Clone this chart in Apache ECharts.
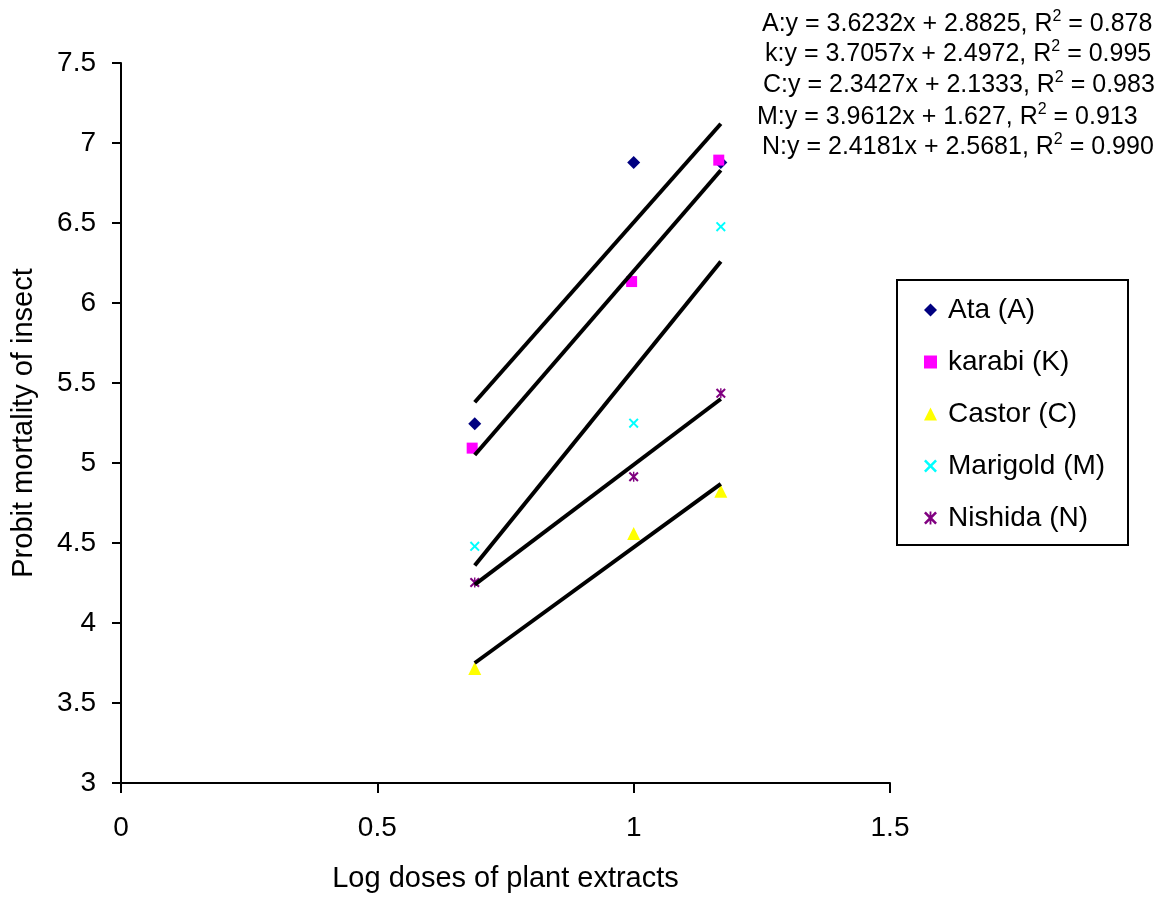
<!DOCTYPE html>
<html>
<head>
<meta charset="utf-8">
<script src="https://cdn.jsdelivr.net/npm/echarts@6/dist/echarts.min.js"></script>
<style>
html,body{margin:0;padding:0;background:#fff;}
#chart{width:1169px;height:899px;}
</style>
</head>
<body>
<div id="chart"></div>
<script>
// ---- data ----
const seriesNames = ['Ata (A)', 'karabi (K)', 'Castor (C)', 'Marigold (M)', 'Nishida (N)'];
const xAta = [0.69, 1.0, 1.17];
const yAta = [5.245, 6.878, 6.878];
const xKarabi = [0.685, 0.996, 1.166];
const yKarabi = [5.093, 6.134, 6.893];
const xCastor = [0.69, 1.0, 1.17];
const yCastor = [3.716, 4.559, 4.823];
const xMarigold = [0.69, 1.0, 1.17];
const yMarigold = [4.479, 5.249, 6.477];
const xNishida = [0.69, 1.0, 1.17];
const yNishida = [4.253, 4.914, 5.436];

// trendline end points
const trendX = [0.69, 1.17];
const trendA = [5.38, 7.12];
const trendK = [5.05, 6.83];
const trendC = [3.75, 4.87];
const trendM = [4.36, 6.26];
const trendN = [4.24, 5.40];

const equations = [
  ['A:y = 3.6232x + 2.8825, R', '2', ' = 0.878'],
  ['k:y = 3.7057x + 2.4972, R', '2', ' = 0.995'],
  ['C:y = 2.3427x + 2.1333, R', '2', ' = 0.983'],
  ['M:y = 3.9612x + 1.627, R', '2', ' = 0.913'],
  ['N:y = 2.4181x + 2.5681, R', '2', ' = 0.990']
];

const xTitle = 'Log doses of plant extracts';
const yTitle = 'Probit mortality of insect';

// ---- build ----
const FONT = "'Liberation Sans', Arial, sans-serif";
const zip = (xs, ys) => xs.map((x, i) => [x, ys[i]]);

const crossPath = 'path://M0,1.4 L1.4,0 L5,3.6 L8.6,0 L10,1.4 L6.4,5 L10,8.6 L8.6,10 L5,6.4 L1.4,10 L0,8.6 L3.6,5 Z';
const starPath = 'path://M0,1.4 L1.4,0 L5,3.6 L8.6,0 L10,1.4 L6.4,5 L10,8.6 L8.6,10 L5,6.4 L1.4,10 L0,8.6 L3.6,5 Z M4.3,0 L5.7,0 L5.7,10 L4.3,10 Z';

const scatterDefs = [
  {name: seriesNames[0], data: zip(xAta, yAta), symbol: 'diamond', size: 13, color: '#000080'},
  {name: seriesNames[1], data: zip(xKarabi, yKarabi), symbol: 'rect', size: 11, color: '#ff00ff'},
  {name: seriesNames[2], data: zip(xCastor, yCastor), symbol: 'triangle', size: 13, color: '#ffff00'},
  {name: seriesNames[3], data: zip(xMarigold, yMarigold), symbol: crossPath, size: 10, color: '#00ffff'},
  {name: seriesNames[4], data: zip(xNishida, yNishida), symbol: starPath, size: 10, color: '#800080'}
];

const series = scatterDefs.map(d => ({
  type: 'scatter',
  name: d.name,
  data: d.data,
  symbol: d.symbol,
  symbolSize: d.size,
  itemStyle: {color: d.color, opacity: 1},
  z: 2
}));

[trendA, trendK, trendC, trendM, trendN].forEach((t, i) => {
  series.push({
    type: 'line',
    name: 'trend' + i,
    data: zip(trendX, t),
    showSymbol: false,
    symbol: 'none',
    silent: true,
    lineStyle: {color: '#000', width: 4},
    z: 3
  });
});

const eqLeft = [762, 765, 763, 757, 762];
const eqMid = [24, 54, 85, 117, 147];
const graphics = equations.map((e, i) => ({
  type: 'text',
  left: eqLeft[i],
  top: eqMid[i] - 15,
  style: {
    text: '{m|' + e[0] + '}{s|' + e[1] + '}{m|' + e[2] + '}',
    rich: {
      m: {fontSize: 25, fontFamily: FONT, fill: '#000', lineHeight: 30},
      s: {fontSize: 16, fontFamily: FONT, fill: '#000', lineHeight: 16, verticalAlign: 'top'}
    }
  }
}));
graphics.push({
  type: 'rect',
  shape: {x: 897, y: 280, width: 231, height: 265},
  style: {fill: 'none', stroke: '#000', lineWidth: 2},
  silent: true
});

const chart = echarts.init(document.getElementById('chart'), null, {renderer: 'canvas'});
chart.setOption({
  backgroundColor: '#fff',
  animation: false,
  textStyle: {fontFamily: FONT},
  grid: {left: 121, right: 279, top: 63, bottom: 116, containLabel: false},
  xAxis: {
    type: 'value',
    min: 0, max: 1.5, interval: 0.5,
    name: xTitle,
    nameLocation: 'middle',
    nameGap: 81,
    nameTextStyle: {fontSize: 29, color: '#000', fontFamily: FONT},
    axisLine: {show: true, onZero: false, lineStyle: {color: '#000', width: 2}},
    axisTick: {show: true, length: 10, lineStyle: {color: '#000', width: 2}},
    axisLabel: {fontSize: 28, color: '#000', margin: 31, fontFamily: FONT},
    splitLine: {show: false}
  },
  yAxis: {
    type: 'value',
    min: 3, max: 7.5, interval: 0.5,
    name: yTitle,
    nameLocation: 'middle',
    nameGap: 83,
    nameTextStyle: {fontSize: 29, color: '#000', fontFamily: FONT},
    axisLine: {show: true, onZero: false, lineStyle: {color: '#000', width: 2}},
    axisTick: {show: true, length: 9, lineStyle: {color: '#000', width: 2}},
    axisLabel: {fontSize: 28, color: '#000', margin: 25, fontFamily: FONT},
    splitLine: {show: false}
  },
  legend: {
    orient: 'vertical',
    left: 919,
    top: 291,
    data: seriesNames,
    itemWidth: 13,
    itemHeight: 13,
    itemGap: 24,
    selectedMode: false,
    textStyle: {fontSize: 28, color: '#000', fontFamily: FONT, lineHeight: 28, padding: [0, 0, 0, 6]}
  },
  graphic: graphics,
  series: series
});
</script>
</body>
</html>
